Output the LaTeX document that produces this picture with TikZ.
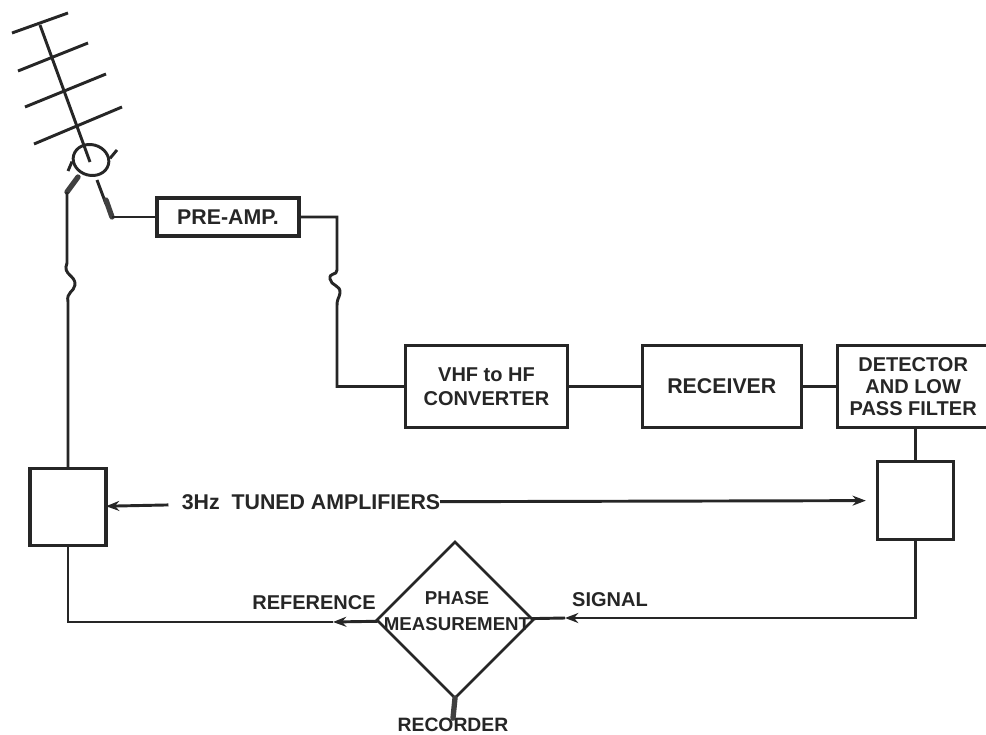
\documentclass[tikz,border=0pt]{standalone}
\usepackage{fontspec}
\setmainfont{Liberation Sans}
\usepackage{xcolor}
\usepackage{tikz}
\usetikzlibrary{arrows.meta,positioning,shapes.geometric}

\begin{document}
\begin{tikzpicture}[
    x=0.75pt, y=-0.75pt,
    font=\fontsize{15}{16.5}\selectfont\bfseries,
    text=black!85,
    box/.style={draw=black!85, line width=2.4pt, align=center, inner sep=0pt, outer sep=0pt, minimum height=62pt},
    ampbox/.style={box, minimum width=57pt, minimum height=58pt},
    phase/.style={draw=black!85, line width=2pt, diamond, aspect=1, inner sep=0pt, outer sep=0pt, minimum width=117pt, minimum height=117pt},
    lbl/.style={align=center, inner sep=0pt, outer sep=0pt},
    wide/.style={font=\fontsize{16}{18}\selectfont\bfseries},
    wire/.style={draw=black!85, line width=2.2pt},
    edge/.style={wire, -{Stealth[length=10pt, width=7.5pt]}},
    blob/.style={draw=black!75, line width=4pt, line cap=round}
]
\useasboundingbox (0,0) rectangle (986,735);
% top row
\node[box, wide, minimum width=106.5pt, minimum height=28.5pt] (preamp) at (228,217) {PRE-AMP.};
\node[box, minimum width=122pt, font=\fontsize{15}{18}\selectfont\bfseries] (vhf) at (486.5,386.5) {VHF to HF\\CONVERTER};
\node[box, wide, minimum width=119pt, right=56pt of vhf] (receiver) {RECEIVER};
\node[box, minimum width=114pt, right=27pt of receiver] (detector) {DETECTOR\\AND LOW\\PASS FILTER};
% tuned amplifiers
\node[ampbox] (ampl) at (68,507) {};
\node[ampbox, below=25.5pt of detector, xshift=2pt] (ampr) {};
\node[lbl, wide] (tuned) at (311,502) {3Hz\ \ TUNED AMPLIFIERS};
% phase measurement
\node[phase] (phasebox) at (455,620) {};
\node[lbl, font=\fontsize{14}{19}\selectfont\bfseries] (phasetext) at (457,611) {PHASE\\MEASUREMENT};
\node[lbl] (reftext) at (314,603) {REFERENCE};
\node[lbl] (sigtext) at (610,600) {SIGNAL};
\node[lbl, font=\fontsize{14.5}{16}\selectfont\bfseries] (recorder) at (453,725) {RECORDER};
% antenna
\coordinate (boomtop) at (40,25);
\coordinate (boomend) at (90,162);
\coordinate (feedl) at (67,192);
\coordinate (feedr) at (112,217);
\coordinate (refmark) at (333,622);
\coordinate (sigmark) at (565,618);
\node[draw=black!85, line width=2.2pt, ellipse, rotate=-15, minimum width=27pt, minimum height=23pt, inner sep=0pt] (rotor) at (91,160) {};
\draw[wire] (boomtop) -- (boomend);
\draw[wire] (12,33) -- (68,13);
\draw[wire] (18,71) -- (88,43);
\draw[wire] (25,107) -- (106,74);
\draw[wire] (34,144) -- (122,107);
\draw[wire] (rotor.20) -- (117,150);
\draw[wire] (68,171) -- (rotor.200);
\draw[blob] (78,177) -- (feedl);
\draw[wire] (97,180) -- (106,204);
\draw[blob] (106,200) -- (feedr);
% connectors
\draw[wire] (feedl) -- (67,263) .. controls (62,275) and (76,275) .. (75,285) .. controls (74,292) and (66,292) .. (68,302) -- (ampl);
\draw[wire] (feedr) -- (preamp);
\draw[wire] (preamp.east) -- (337,217) -- (337,270) .. controls (337,276) and (329,272) .. (330,279) .. controls (331,286) and (341,285) .. (340,293) .. controls (339,299) and (337,298) .. (337,306) |- (vhf.west);
\draw[wire] (vhf) -- (receiver);
\draw[wire] (receiver) -- (detector);
\draw[wire] (ampr.north) -- (ampr.north |- detector.south);
\draw[edge, shorten <=10pt] (tuned) -- (ampl);
\draw[edge, shorten >=9pt] (tuned) -- (ampr);
\draw[wire] (ampl) |- (refmark);
\draw[edge] (phasebox) -- (refmark);
\draw[edge] (ampr) |- (sigmark);
\draw[wire] (sigmark) -- (phasebox);
\draw[blob] (phasebox.south) -- (recorder.north);
\end{tikzpicture}
\end{document}
